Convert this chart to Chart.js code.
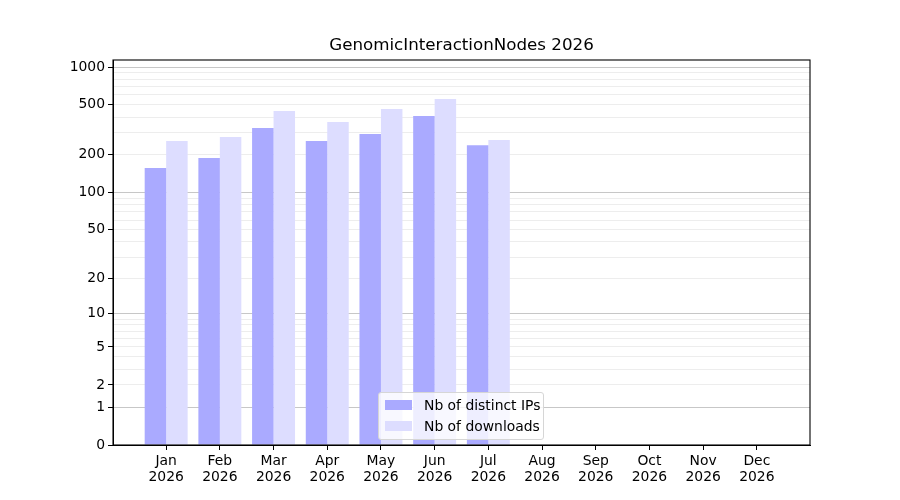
<!DOCTYPE html>
<html>
<head>
<meta charset="utf-8">
<script src="https://cdn.jsdelivr.net/npm/chart.js@4"></script>
<style>
  body { margin: 0; background: #fff; }
  #wrap { position: relative; width: 900px; height: 500px; }
  #legend {
    position: absolute; left: 378px; top: 392px; width: 164px; height: 46px;
    border: 1px solid #d6d6d6; border-radius: 3px; background: rgba(255,255,255,0.8);
    font-family: 'DejaVu Sans', sans-serif; font-size: 13.9px; color: #000;
  }
  .item { position: absolute; left: 6px; height: 16px; line-height: 16px; white-space: nowrap; }
  .sw { position: absolute; left: 0; top: 3px; width: 27px; height: 10px; }
  .lb { position: absolute; left: 39px; top: 0; }
</style>
</head>
<body>
<div id="wrap">
  <canvas id="chart" width="900" height="500"></canvas>
  <div id="legend">
    <div class="item" style="top:4px"><span class="sw" style="background:#aaaaff"></span><span class="lb">Nb of distinct IPs</span></div>
    <div class="item" style="top:25px"><span class="sw" style="background:#ddddff"></span><span class="lb">Nb of downloads</span></div>
  </div>
</div>
<script>
// données
const months = ["Jan", "Feb", "Mar", "Apr", "May", "Jun", "Jul", "Aug", "Sep", "Oct", "Nov", "Dec"];
const year = "2026";
const chartTitle = "GenomicInteractionNodes 2026";
const distinctIPs = [157, 189, 327, 258, 293, 407, 239];
const downloads = [258, 277, 447, 365, 463, 556, 263];
const yLabels = [0, 1, 2, 5, 10, 20, 50, 100, 200, 500, 1000];
const yMajor = [1, 10, 100, 1000];

// échelle log10(v + 1)
const tr = v => Math.log10(v + 1);
const minorVals = [];
[1, 10, 100].forEach(d => { for (let k = 1; k < 10; k++) minorVals.push(k * d); });
minorVals.push(1000);

const toPoints = arr => arr.map((v, i) => ({ x: i, y: tr(v) }));
const near = (a, b) => Math.abs(a - b) < 1e-9;
const isIn = (val, list) => list.some(v => near(tr(v), val));

const FONT = "'DejaVu Sans', sans-serif";

// cadre complet + titre centré sur les axes
const frame = {
  id: 'frame',
  afterDraw(chart) {
    const { ctx, chartArea: a } = chart;
    ctx.save();
    ctx.strokeStyle = '#000';
    ctx.lineWidth = 1.1;
    ctx.strokeRect(a.left, a.top, a.right - a.left, a.bottom - a.top);
    ctx.fillStyle = '#000';
    ctx.font = "16.7px " + FONT;
    ctx.textAlign = 'center';
    ctx.textBaseline = 'middle';
    ctx.fillText(chartTitle, (a.left + a.right) / 2, 46);
    ctx.restore();
  }
};

new Chart(document.getElementById("chart"), {
  type: 'bar',
  data: {
    datasets: [{
      label: "Nb of distinct IPs",
      data: toPoints(distinctIPs),
      backgroundColor: "#aaaaff"
    }, {
      label: "Nb of downloads",
      data: toPoints(downloads),
      backgroundColor: "#ddddff"
    }]
  },
  options: {
    responsive: false,
    animation: false,
    layout: { padding: { left: 0, right: 90, top: 60, bottom: 0 } },
    datasets: { bar: { categoryPercentage: 0.8, barPercentage: 1 } },
    plugins: {
      title: { display: false },
      legend: { display: false },
      tooltip: { enabled: true }
    },
    scales: {
      x: {
        type: 'linear', min: -0.99, max: 11.99, offset: false,
        afterBuildTicks: s => { s.ticks = months.map((m, i) => ({ value: i })); },
        afterFit: s => { s.height = 55; },
        grid: { offset: false, drawOnChartArea: false, drawTicks: true, tickLength: 5, tickColor: '#000' },
        border: { color: '#000' },
        ticks: {
          autoSkip: false, maxRotation: 0, padding: 4, color: '#000',
          font: { family: FONT, size: 13.9, lineHeight: 1.1 },
          callback: v => [months[v], year]
        }
      },
      y: {
        type: 'linear', min: 0, max: 3.056, z: 1,
        afterBuildTicks: s => {
          s.ticks = [0].concat(minorVals).map(v => ({ value: tr(v) }));
        },
        afterFit: s => { s.width = 113; },
        grid: {
          tickLength: 5,
          color: c => {
            if (!c.tick || near(c.tick.value, 0)) return 'rgba(0,0,0,0)';
            return isIn(c.tick.value, yMajor) ? 'rgba(0,0,0,0.22)' : 'rgba(0,0,0,0.07)';
          },
          tickColor: c => (c.tick && isIn(c.tick.value, yLabels)) ? '#000' : 'rgba(0,0,0,0)'
        },
        border: { color: '#000' },
        ticks: {
          autoSkip: false, padding: 3, color: '#000',
          font: { family: FONT, size: 13.9 },
          callback: v => {
            const hit = yLabels.find(l => near(tr(l), v));
            return hit === undefined ? '' : String(hit);
          }
        }
      }
    }
  },
  plugins: [frame]
});
</script>
</body>
</html>
